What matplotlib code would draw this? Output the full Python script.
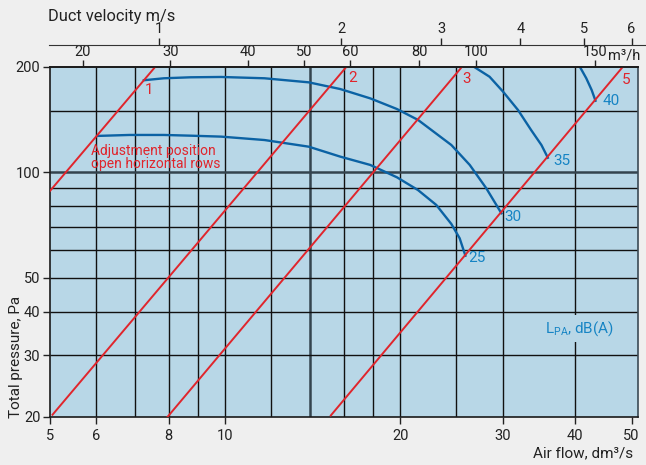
import numpy as np
import matplotlib.pyplot as plt

plt.rcParams['font.family'] = ['Roboto', 'DejaVu Sans']

# axis ticks (air flow dm3/s, total pressure Pa)
x_ticks = [5, 6, 8, 10, 20, 30, 40, 50]
y_ticks = [20, 30, 40, 50, 100, 200]

# grid of the chart
grid_q = [6, 7, 8, 9, 10, 12, 14, 16, 18, 20, 25, 30, 40]
grid_q_top = [200, 200, 200, 150, 200, 200, 200, 200, 200, 200, 200, 200, 200]
grid_p = [30, 40, 50, 60, 70, 80, 90, 100, 150]

# top scales: m3/h and duct velocity, placed at the air flow (dm3/s) where they sit
m3h_lbl = ['20', '30', '40', '50', '60', '80', '100', '150']
m3h_q = [5.69, 8.05, 10.94, 13.66, 16.42, 21.55, 27.06, 43.35]
vel_lbl = ['1', '2', '3', '4', '5', '6']
vel_q = [7.71, 15.84, 23.55, 32.21, 41.4, 50.0]

# adjustment positions (red lines)
red_lbl = ['1', '2', '3', '5']
red_q = [[5.0, 7.6], [5.05, 16.2], [7.96, 25.6], [15.2, 48.4]]
red_p = [[88.5, 201], [20.3, 201], [20.0, 201], [20.2, 201]]
red_lbl_q = [7.4, 16.6, 26.0, 49.0]
red_lbl_p = [172, 186.4, 184.8, 183.7]

# sound level curves LPA (blue)
lpa_25_q = [6.04, 6.85, 7.85, 8.72, 9.85, 11.69, 13.93, 15.78, 17.77, 19.75, 21.47, 23.08, 24.50, 25.32, 25.90]
lpa_25_p = [127.1, 127.9, 127.9, 127.3, 126.5, 123.7, 118.4, 110.9, 105.0, 96.8, 89.0, 80.7, 71.2, 64.8, 57.8]
lpa_30_q = [7.25, 7.85, 8.72, 9.85, 11.69, 13.93, 15.78, 17.77, 19.75, 21.47, 24.50, 26.35, 28.14, 29.28, 29.87]
lpa_30_p = [183.3, 185.7, 186.9, 187.3, 185.7, 180.8, 173.0, 162.7, 151.7, 141.2, 119.7, 105.0, 90.0, 80.7, 76.4]
lpa_35_q = [26.7, 28.5, 30.06, 31.9, 33.6, 35.0, 35.9]
lpa_35_p = [201, 187.6, 170.1, 150.7, 132.1, 119.7, 110.1]
lpa_40_q = [40.7, 41.8, 42.7, 43.35]
lpa_40_p = [201, 185.7, 171.9, 160.2]
lpa_lbl = ['25', '30', '35', '40']
lpa_lbl_q = [27.06, 31.2, 38.0, 46.2]
lpa_lbl_p = [56.8, 74.7, 107.7, 160.0]

red = '#e0252c'
blue = '#0b62a4'
blue_txt = '#1684c4'
dark = '#222222'
bg = '#b8d7e7'

fig = plt.figure(figsize=(6.46, 4.65), dpi=100)
fig.patch.set_facecolor('#efefef')
ax = fig.add_axes([50/646, 1-417/465, 588/646, 350/465])
ax.set_facecolor(bg)
ax.set_xscale('log')
ax.set_yscale('log')
ax.set_xlim(5, 51.3)
ax.set_ylim(20, 200)

## Grid
for q, top in zip(grid_q, grid_q_top):
    if q == 14:
        ax.vlines(q, 20, top, colors='#34444e', lw=1.8, zorder=1)
    else:
        ax.vlines(q, 20, top, colors='#111111', lw=1.0, zorder=1)
for p in grid_p:
    if p == 100:
        ax.hlines(p, 5, 60, colors='#34444e', lw=1.8, zorder=1)
    else:
        ax.hlines(p, 5, 60, colors='#111111', lw=1.0, zorder=1)

## Adjustment lines
for i in range(len(red_lbl)):
    ax.plot(red_q[i], red_p[i], color=red, lw=1.4, zorder=3)
    ax.text(red_lbl_q[i], red_lbl_p[i], red_lbl[i], color=red, fontsize=11,
            ha='center', va='center', zorder=4)
ax.text(5.87, 120.5, 'Adjustment position\nopen horizontal rows', color=red,
        fontsize=10, ha='left', va='top', linespacing=0.92, zorder=4)

## Sound level curves
ax.plot(lpa_25_q, lpa_25_p, color=blue, lw=1.7, zorder=2)
ax.plot(lpa_30_q, lpa_30_p, color=blue, lw=1.7, zorder=2)
ax.plot(lpa_35_q, lpa_35_p, color=blue, lw=1.7, zorder=2)
ax.plot(lpa_40_q, lpa_40_p, color=blue, lw=1.7, zorder=2)
for i in range(len(lpa_lbl)):
    ax.text(lpa_lbl_q[i], lpa_lbl_p[i], lpa_lbl[i], color=blue_txt, fontsize=11,
            ha='center', va='center', zorder=4)
ax.text(40.7, 35.7, r'L$_{\mathregular{PA}}$, dB(A)', color=blue_txt, fontsize=11,
        ha='center', va='center', zorder=4,
        bbox=dict(facecolor=bg, edgecolor='none', pad=3))

## Bottom / left axes
ax.set_xticks(x_ticks)
ax.set_xticklabels([str(v) for v in x_ticks])
ax.set_yticks(y_ticks)
ax.set_yticklabels([str(v) for v in y_ticks])
ax.minorticks_off()
ax.tick_params(direction='out', length=5, width=1, colors=dark, labelsize=10.5, pad=2)
ax.tick_params(axis='x', pad=4)
for s in ax.spines.values():
    s.set_color('#1a1a1a')
    s.set_linewidth(1.2)
ax.spines['right'].set_color('#3a4a55')

## Top axis in m3/h
axt = ax.twiny()
axt.set_xscale('log')
axt.set_xlim(ax.get_xlim())
axt.set_xticks(m3h_q)
axt.set_xticklabels(m3h_lbl)
axt.minorticks_off()
axt.tick_params(direction='out', length=5, width=1, colors=dark, labelsize=10.5, pad=1)
for k in ['left', 'right', 'bottom']:
    axt.spines[k].set_visible(False)
axt.spines['top'].set_color('#1a1a1a')
axt.spines['top'].set_linewidth(1.2)

## Duct velocity axis
axv = ax.twiny()
axv.set_xscale('log')
axv.set_xlim(ax.get_xlim())
axv.set_xticks(vel_q)
axv.set_xticklabels(vel_lbl)
axv.minorticks_off()
axv.spines['top'].set_position(('axes', 1 + 22.4/350))
axv.spines['top'].set_bounds(4.98, 60)
axv.spines['top'].set_color('#333333')
for k in ['left', 'right', 'bottom']:
    axv.spines[k].set_visible(False)
axv.tick_params(direction='out', length=5, width=1, colors=dark, labelsize=10.5, pad=1)

fig.text(48/646, 1-16/465, 'Duct velocity m/s', color=dark, fontsize=11.8, ha='left', va='center')
fig.text(608/646, 1-55/465, 'm³/h', color=dark, fontsize=10.5, ha='left', va='center')
fig.text(16/646, 1-418/465, 'Total pressure, Pa', color=dark, fontsize=11,
         rotation=90, ha='center', va='bottom')
fig.text(633/646, 1-453/465, 'Air flow, dm³/s', color=dark, fontsize=11, ha='right', va='center')

plt.savefig('out.png', dpi=100, facecolor=fig.get_facecolor())
